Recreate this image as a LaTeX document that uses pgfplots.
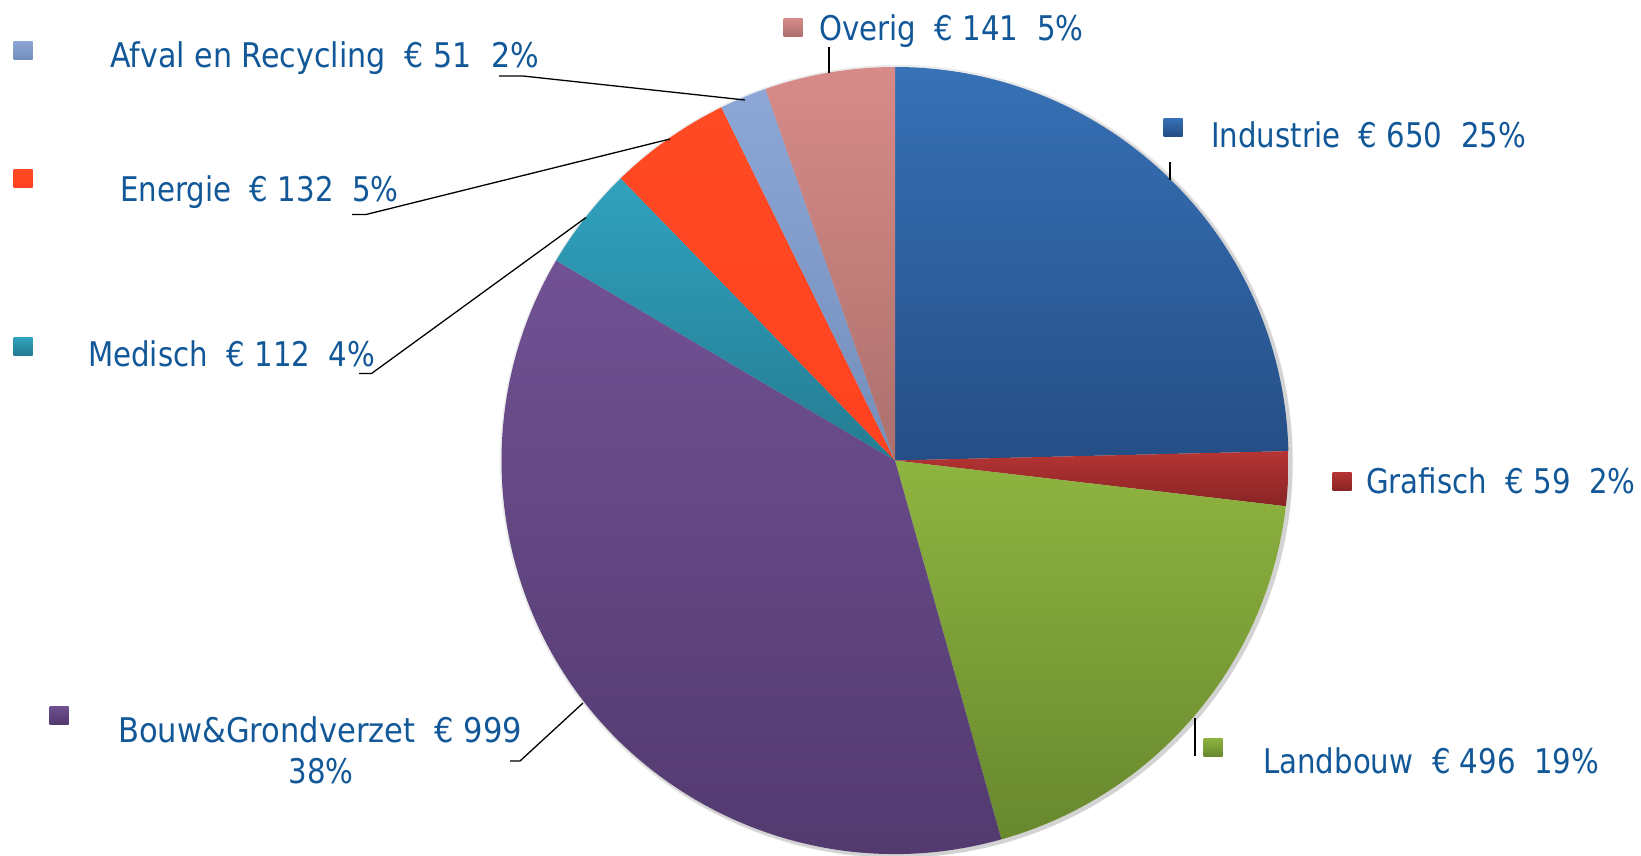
\documentclass[border=0pt]{standalone}
\usepackage{pgfplots}
\pgfplotsset{compat=1.18}
\usepackage{pgfplotstable}
\usepackage{fontspec}
\setmainfont{DejaVu Sans}[FakeStretch=0.86]
\definecolor{txt}{RGB}{18,88,152}
% slice colours (top / bottom of gradient)
\definecolor{ctop0}{RGB}{55,113,182}\definecolor{cbot0}{RGB}{37,78,134}
\definecolor{ctop1}{RGB}{182,53,52}\definecolor{cbot1}{RGB}{136,36,36}
\definecolor{ctop2}{RGB}{142,180,64}\definecolor{cbot2}{RGB}{104,136,46}
\definecolor{ctop3}{RGB}{113,81,147}\definecolor{cbot3}{RGB}{80,56,108}
\definecolor{ctop4}{RGB}{49,162,190}\definecolor{cbot4}{RGB}{36,124,146}
\definecolor{ctop5}{RGB}{255,74,36}\definecolor{cbot5}{RGB}{255,66,32}
\definecolor{ctop6}{RGB}{140,167,215}\definecolor{cbot6}{RGB}{116,142,186}
\definecolor{ctop7}{RGB}{215,139,137}\definecolor{cbot7}{RGB}{172,112,108}
\tikzset{lbl/.style={font=\fontsize{34}{38}\selectfont, text=txt, inner sep=0pt}}
\pgfplotstableread{
name value
Industrie 650
Grafisch 59
Landbouw 496
Bouw 999
Medisch 112
Energie 132
Afval 51
Overig 141
}\piedata
\begin{document}
\begin{tikzpicture}
% cumulative angles from the table
\pgfplotstablegetrowsof{\piedata}
\pgfmathtruncatemacro\nrows{\pgfplotsretval-1}
\gdef\tot{0}
\foreach \i in {0,...,\nrows}{%
  \pgfplotstablegetelem{\i}{value}\of\piedata
  \pgfmathsetmacro\newtot{\tot+\pgfplotsretval}%
  \xdef\tot{\newtot}}
\gdef\cum{0}
\foreach \i in {0,...,\nrows}{%
  \pgfplotstablegetelem{\i}{value}\of\piedata
  \pgfmathsetmacro\sa{90-360*(\cum/\tot)}%
  \pgfmathsetmacro\newcum{\cum+\pgfplotsretval}%
  \pgfmathsetmacro\ea{90-360*(\newcum/\tot)}%
  \expandafter\xdef\csname sa\i\endcsname{\sa}%
  \expandafter\xdef\csname ea\i\endcsname{\ea}%
  \xdef\cum{\newcum}}
\begin{axis}[
  at={(0,0)}, anchor=south west,
  width=1641pt, height=855pt, scale only axis,
  xmin=0, xmax=1641, ymin=0, ymax=855, y dir=reverse,
  hide axis, clip=false]
% soft shadow behind the pie
\fill[black, opacity=0.10] (axis cs:897.5,462.5) circle[radius=395pt];
\fill[black, opacity=0.08] (axis cs:896.5,461.5) circle[radius=396.5pt];
\pgfplotsinvokeforeach{0,...,7}{%
  \path[top color=ctop#1, bottom color=cbot#1, shading angle=0]
    (axis cs:895,460.5) -- ++(\csname sa#1\endcsname:393.5pt)
    arc[start angle=\csname sa#1\endcsname, end angle=\csname ea#1\endcsname, radius=393.5pt] -- cycle;
}
% legend markers
\newcommand\mk[3]{\path[top color=ctop#3, bottom color=cbot#3] (axis cs:#1-9.5,#2-9) rectangle (axis cs:#1+9.5,#2+9);}
\mk{23}{50}{6}
\mk{793}{27}{7}
\mk{1173}{127}{0}
\mk{23}{178}{5}
\mk{23}{346}{4}
\mk{1342}{481}{1}
\mk{1213}{747}{2}
\mk{59}{715}{3}
% labels
\node[lbl, anchor=base west] at (axis cs:110,67) {\scalebox{1.03}[1]{Afval en Recycling\ \ € 51\ \ 2\%}};
\node[lbl, anchor=base west] at (axis cs:819,40) {Overig\ \ € 141\ \ 5\%};
\node[lbl, anchor=base west] at (axis cs:1211,147) {Industrie\ \ € 650\ \ 25\%};
\node[lbl, anchor=base west] at (axis cs:120,201) {Energie\ \ € 132\ \ 5\%};
\node[lbl, anchor=base west] at (axis cs:88,366) {Medisch\ \ € 112\ \ 4\%};
\node[lbl, anchor=base west] at (axis cs:1366,493) {Grafisch\ \ € 59\ \ 2\%};
\node[lbl, anchor=base west] at (axis cs:1263,773) {Landbouw\ \ € 496\ \ 19\%};
\node[lbl, anchor=base west] at (axis cs:118,742) {\scalebox{1.045}[1]{Bouw\&Grondverzet\ \ € 999}};
\node[lbl, anchor=base] at (axis cs:321,783) {38\%};
% leader lines
\draw[black, line width=1.3pt] (axis cs:499,76)--(axis cs:523,76)--(axis cs:745,100);
\draw[black, line width=1.3pt] (axis cs:352,214.5)--(axis cs:366,214.5)--(axis cs:670,139);
\draw[black, line width=1.3pt] (axis cs:359,373.5)--(axis cs:371.5,373.5)--(axis cs:586,217.5);
\draw[black, line width=1.3pt] (axis cs:510,761)--(axis cs:520,761)--(axis cs:583,703);
\draw[black, line width=1.3pt] (axis cs:829,47)--(axis cs:829,73);
\draw[black, line width=1.3pt] (axis cs:1170,162)--(axis cs:1170,180);
\draw[black, line width=1.3pt] (axis cs:1195,718)--(axis cs:1195,756);
\end{axis}
\pgfresetboundingbox
\path[use as bounding box] (0,0) rectangle (1641pt,855pt);
\end{tikzpicture}
\end{document}
